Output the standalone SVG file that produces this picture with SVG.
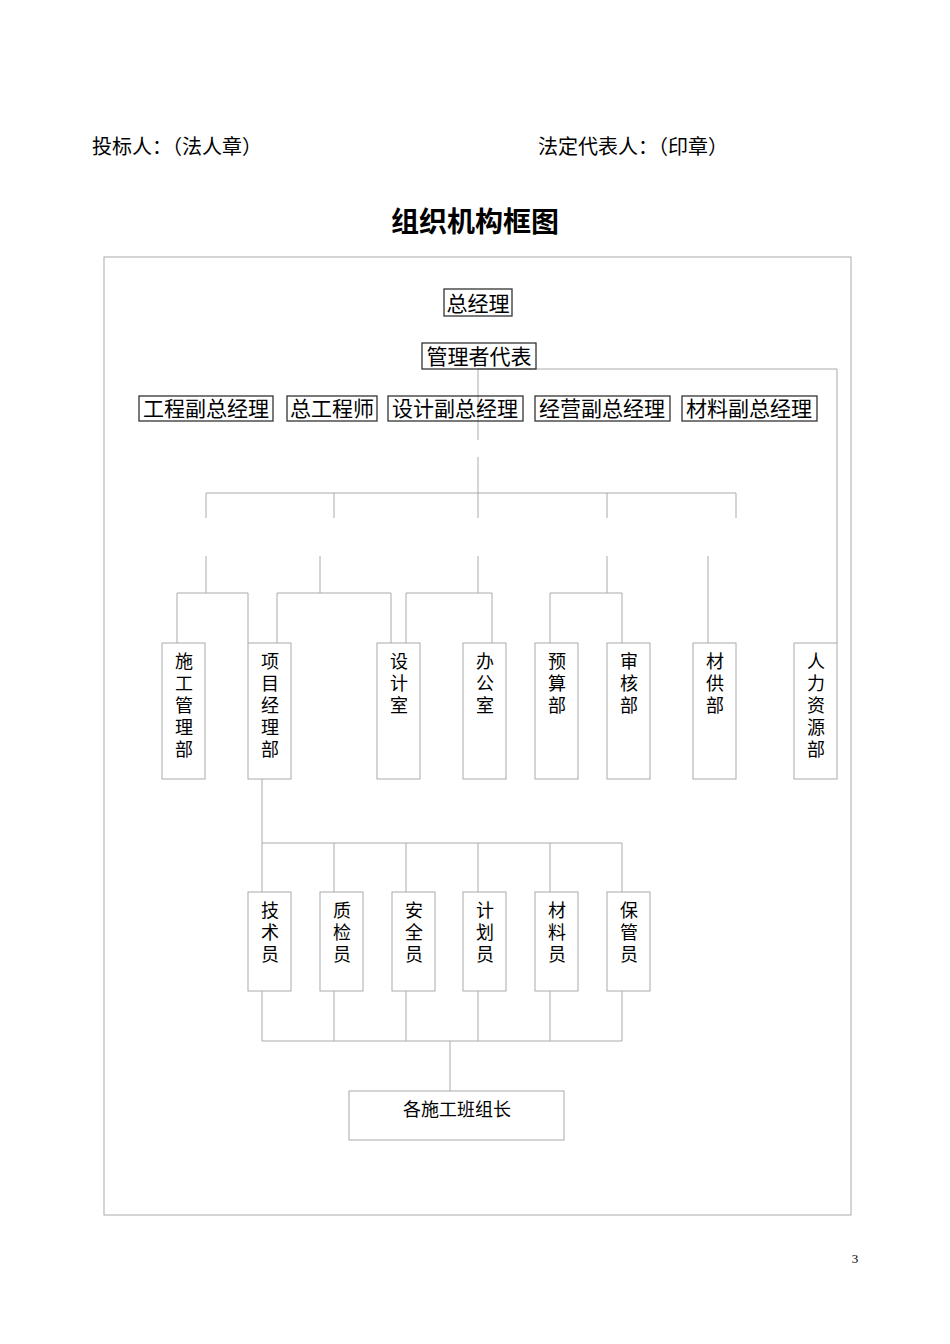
<svg xmlns="http://www.w3.org/2000/svg" width="950" height="1344" viewBox="0 0 950 1344">
<style>
text{font-family:"Liberation Serif","Noto Sans CJK SC",serif;fill:#000}
.t{font-size:20px}
.r{font-size:21px;text-anchor:middle}
.v{font-size:18px;text-anchor:middle}
.b1{fill:none;stroke:#333;stroke-width:1.3}
.b2{fill:none;stroke:#aaa;stroke-width:1}
.c{fill:none;stroke:#aaa;stroke-width:1}
</style>
<rect width="950" height="1344" fill="#fff"/>
<text class="t" x="92" y="154">投标人：（法人章）</text>
<text class="t" x="538" y="154">法定代表人：（印章）</text>
<text x="475" y="232" style="font-size:28px;font-weight:bold;text-anchor:middle">组织机构框图</text>
<rect x="104" y="257" width="747" height="958" class="b2"/>
<g id="connectors">
<path class="c" d="M478 369V440M478 369H837V643M478 457V493M206 493H736M206 493V518M334 493V518M478 493V518M607 493V518M736 493V518"/>
<path class="c" d="M206 556V593M320 556V593M478 556V593M607 556V593M708 556V643M177 593H248M277 593H391M406 593H492M550 593H622M177 593V643M248 593V643M277 593V643M391 593V643M406 593V643M492 593V643M550 593V643M622 593V643"/>
<path class="c" d="M262 779V843H622M262 843V892M334 843V892M406 843V892M478 843V892M550 843V892M622 843V892M262 991V1041H622M334 991V1041M406 991V1041M478 991V1041M550 991V1041M622 991V1041M450 1041V1091"/>
</g>
<g id="n-zjl"><rect x="444" y="289" width="68" height="27" class="b1"/><text class="r" x="478" y="311">总经理</text></g>
<g id="n-glzdb"><rect x="422" y="343" width="114" height="26" class="b1"/><text class="r" x="479" y="364">管理者代表</text></g>
<g id="n-gc"><rect x="139" y="396" width="134" height="25" class="b1"/><text class="r" x="206" y="416">工程副总经理</text></g>
<g id="n-zgcs"><rect x="287" y="396" width="90" height="25" class="b1"/><text class="r" x="332" y="416">总工程师</text></g>
<g id="n-sj"><rect x="388" y="396" width="135" height="25" class="b1"/><text class="r" x="455" y="416">设计副总经理</text></g>
<g id="n-jy"><rect x="535" y="396" width="135" height="25" class="b1"/><text class="r" x="602" y="416">经营副总经理</text></g>
<g id="n-cl"><rect x="682" y="396" width="135" height="25" class="b1"/><text class="r" x="749" y="416">材料副总经理</text></g>
<g id="n-sggl"><rect x="162" y="643" width="43" height="136" class="b2"/><text class="v"><tspan x="184" y="668">施</tspan><tspan x="184" y="690">工</tspan><tspan x="184" y="712">管</tspan><tspan x="184" y="734">理</tspan><tspan x="184" y="756">部</tspan></text></g>
<g id="n-xmjl"><rect x="248" y="643" width="43" height="136" class="b2"/><text class="v"><tspan x="270" y="668">项</tspan><tspan x="270" y="690">目</tspan><tspan x="270" y="712">经</tspan><tspan x="270" y="734">理</tspan><tspan x="270" y="756">部</tspan></text></g>
<g id="n-sjs"><rect x="377" y="643" width="43" height="136" class="b2"/><text class="v"><tspan x="399" y="668">设</tspan><tspan x="399" y="690">计</tspan><tspan x="399" y="712">室</tspan></text></g>
<g id="n-bgs"><rect x="463" y="643" width="43" height="136" class="b2"/><text class="v"><tspan x="485" y="668">办</tspan><tspan x="485" y="690">公</tspan><tspan x="485" y="712">室</tspan></text></g>
<g id="n-ysb"><rect x="535" y="643" width="43" height="136" class="b2"/><text class="v"><tspan x="557" y="668">预</tspan><tspan x="557" y="690">算</tspan><tspan x="557" y="712">部</tspan></text></g>
<g id="n-shb"><rect x="607" y="643" width="43" height="136" class="b2"/><text class="v"><tspan x="629" y="668">审</tspan><tspan x="629" y="690">核</tspan><tspan x="629" y="712">部</tspan></text></g>
<g id="n-cgb"><rect x="693" y="643" width="43" height="136" class="b2"/><text class="v"><tspan x="715" y="668">材</tspan><tspan x="715" y="690">供</tspan><tspan x="715" y="712">部</tspan></text></g>
<g id="n-rlzy"><rect x="794" y="643" width="43" height="136" class="b2"/><text class="v"><tspan x="816" y="668">人</tspan><tspan x="816" y="690">力</tspan><tspan x="816" y="712">资</tspan><tspan x="816" y="734">源</tspan><tspan x="816" y="756">部</tspan></text></g>
<g id="n-js"><rect x="248" y="892" width="43" height="99" class="b2"/><text class="v"><tspan x="270" y="917">技</tspan><tspan x="270" y="939">术</tspan><tspan x="270" y="961">员</tspan></text></g>
<g id="n-zj"><rect x="320" y="892" width="43" height="99" class="b2"/><text class="v"><tspan x="342" y="917">质</tspan><tspan x="342" y="939">检</tspan><tspan x="342" y="961">员</tspan></text></g>
<g id="n-aq"><rect x="392" y="892" width="43" height="99" class="b2"/><text class="v"><tspan x="414" y="917">安</tspan><tspan x="414" y="939">全</tspan><tspan x="414" y="961">员</tspan></text></g>
<g id="n-jh"><rect x="463" y="892" width="43" height="99" class="b2"/><text class="v"><tspan x="485" y="917">计</tspan><tspan x="485" y="939">划</tspan><tspan x="485" y="961">员</tspan></text></g>
<g id="n-cly"><rect x="535" y="892" width="43" height="99" class="b2"/><text class="v"><tspan x="557" y="917">材</tspan><tspan x="557" y="939">料</tspan><tspan x="557" y="961">员</tspan></text></g>
<g id="n-bg"><rect x="607" y="892" width="43" height="99" class="b2"/><text class="v"><tspan x="629" y="917">保</tspan><tspan x="629" y="939">管</tspan><tspan x="629" y="961">员</tspan></text></g>
<g id="n-bz"><rect x="349" y="1091" width="215" height="49" class="b2"/><text class="v" x="457" y="1116">各施工班组长</text></g>
<text x="855" y="1263" style="font-size:13px;text-anchor:middle">3</text>
</svg>
